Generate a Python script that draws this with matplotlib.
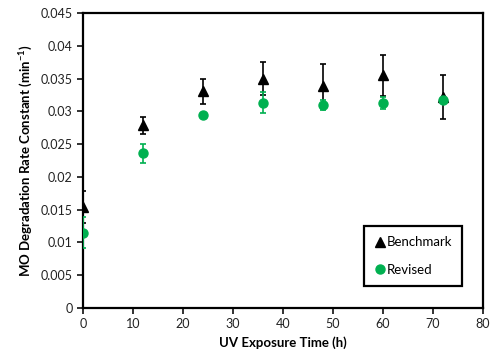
import matplotlib
matplotlib.use("Agg")
import matplotlib.pyplot as plt

plt.rcParams['font.family'] = ['Lato', 'DejaVu Sans']

hours = [0, 12, 24, 36, 48, 60, 72]

bench = [0.0154, 0.0279, 0.0331, 0.0350, 0.0339, 0.0355, 0.0322]
bench_err = [0.0025, 0.0013, 0.0019, 0.0025, 0.0034, 0.0031, 0.0034]

revised = [0.0115, 0.0236, 0.0295, 0.0313, 0.0310, 0.0313, 0.0317]
revised_err = [0.0024, 0.0014, 0.0003, 0.0016, 0.0008, 0.0009, 0.0004]

green = "#00b050"

fig = plt.figure(figsize=(5, 3.62), dpi=100)
ax = fig.add_axes([0.166, 0.149, 0.8, 0.815])

ax.errorbar(hours, bench, yerr=bench_err, fmt="^", color="black", ms=7,
            ecolor="black", elinewidth=1.2, capsize=2, capthick=1.2,
            label="Benchmark", zorder=3)
ax.errorbar(hours, revised, yerr=revised_err, fmt="o", color=green, ms=6.5,
            ecolor=green, elinewidth=1.2, capsize=2, capthick=1.2,
            label="Revised", zorder=4)

ax.set_xlim(0, 80)
ax.set_ylim(0, 0.045)
ax.set_xticks(range(0, 81, 10))
ax.set_yticks([i * 0.005 for i in range(10)])
ax.set_yticklabels(["0", "0.005", "0.01", "0.015", "0.02", "0.025",
                    "0.03", "0.035", "0.04", "0.045"])

for s in ax.spines.values():
    s.set_linewidth(1.6)
    s.set_color("black")
ax.tick_params(direction="out", length=4, width=1.3, labelsize=9,
               colors="#222222")

ax.set_xlabel("UV Exposure Time (h)", fontsize=9.5, fontweight="bold")
ax.set_ylabel("MO Degradation Rate Constant (min$^{\\mathregular{-1}}$)",
              fontsize=9.5, fontweight="bold")

handles, labels = ax.get_legend_handles_labels()
handles = [h[0] for h in handles]
leg = ax.legend(handles, labels, loc="lower right",
                bbox_to_anchor=(0.948, 0.075), fontsize=9.5,
                handletextpad=0.1, handlelength=0.9, labelspacing=1.2,
                borderpad=0.75, borderaxespad=0, fancybox=False,
                edgecolor="black", framealpha=1)
leg.get_frame().set_linewidth(1.6)

fig.savefig("out.png", dpi=100)
